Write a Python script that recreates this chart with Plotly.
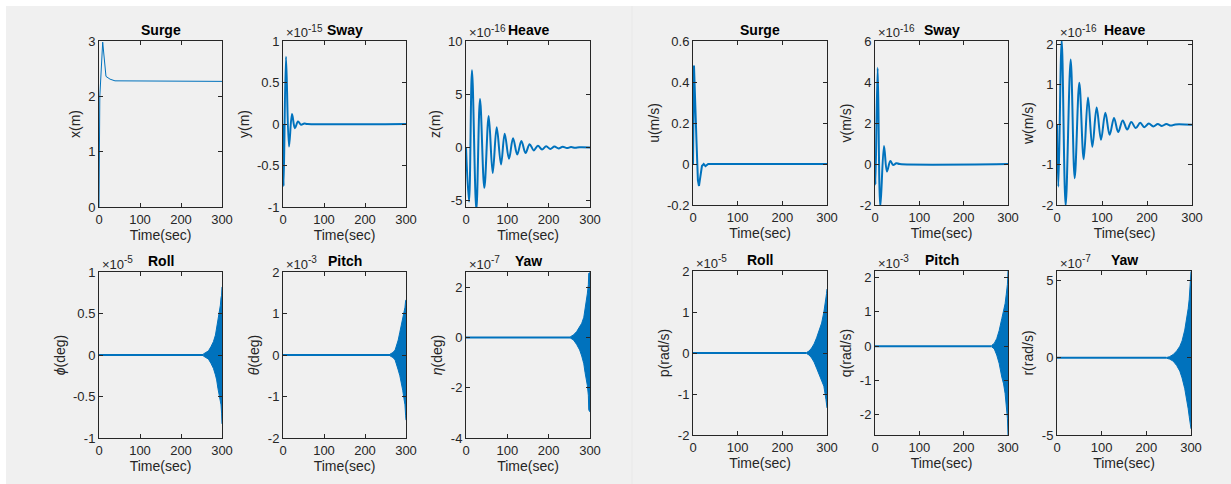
import plotly.graph_objects as go

W, H = 1231, 484
BLUE = "#0072BD"
AXC = "#262626"
FONT = "Liberation Sans, Arial, sans-serif"

# ---------------- data ----------------
time_ticks = [0, 100, 200, 300]

# Left figure: positions / angles
surge_x_t = [0, 2, 9, 17, 27, 39, 300]
surge_x_v = [0, 2.0, 2.98, 2.36, 2.31, 2.28, 2.27]

sway_y_t = [0, 1.5, 7.3, 14.6, 22, 29, 36.6, 44, 52, 60, 300]
sway_y_v = [0, -0.75, 0.81, -0.27, 0.12, -0.05, 0.03, -0.01, 0.005, 0, 0]  # x1e-15

heave_z_t = [0, 7.3, 14.5, 25, 33.9, 44.4, 54.9, 64.6, 74.3, 84.7, 93.6, 104, 113.8,
             124, 134, 144, 154, 164, 174, 184, 194, 204, 214, 224, 234, 244, 254, 264, 274, 300]
heave_z_v = [0, -5.1, 7.24, -5.9, 4.55, -3.8, 2.95, -2.4, 1.9, -1.6, 1.29, -1.07, 0.87,
             -0.66, 0.6, -0.53, 0.3, -0.28, 0.16, -0.19, 0.1, -0.14, 0.08, -0.1, 0.06, -0.06,
             0.03, -0.03, 0.01, 0]  # x1e-16

roll_phi_t = [254, 262, 267, 273, 279, 284, 287, 290, 293.5, 296, 297.6, 299, 300]
roll_phi_up = [0.01, 0.03, 0.05, 0.1, 0.16, 0.24, 0.32, 0.4, 0.52, 0.6, 0.69, 0.72, 0.82]
roll_phi_lo = [-0.01, -0.03, -0.05, -0.1, -0.16, -0.24, -0.3, -0.4, -0.5, -0.58, -0.6, -0.7, -0.83]  # x1e-5

pitch_theta_t = [261, 268, 273.5, 278, 281, 285, 289.4, 292, 295, 297.5, 299, 300]
pitch_theta_up = [0.02, 0.06, 0.12, 0.24, 0.36, 0.55, 0.77, 0.9, 1.0, 1.15, 1.3, 1.33]
pitch_theta_lo = [-0.02, -0.06, -0.12, -0.24, -0.36, -0.5, -0.69, -0.85, -1.05, -1.2, -1.45, -1.57]  # x1e-3

yaw_eta_t = [252, 260, 267.7, 275, 280, 285, 288, 291, 293.5, 296, 297, 299, 300]
yaw_eta_up = [0.02, 0.1, 0.23, 0.4, 0.56, 0.8, 1.08, 1.4, 1.73, 2.1, 2.55, 2.57, 2.57]
yaw_eta_lo = [-0.02, -0.1, -0.28, -0.5, -0.74, -1.05, -1.39, -1.65, -1.9, -2.3, -2.88, -2.95, -2.95]  # x1e-7

# Right figure: velocities
surge_u_t = [0, 2.2, 8, 11, 13.4, 16, 20, 24, 28, 34, 300]
surge_u_v = [0, 0.48, 0.1, -0.08, -0.107, -0.07, -0.01, 0.0, -0.01, 0, 0]

sway_v_t = [0, 1, 6, 12, 20.3, 27, 34.6, 41, 48, 56, 300]
sway_v_v = [0, -1.0, 4.69, -2.1, 0.88, -0.37, 0.15, -0.05, 0.04, 0, 0]  # x1e-16

heave_w_t = [0, 3, 10.4, 19.2, 30.4, 39.3, 49.6, 59.3, 68.9, 78.5, 88.1, 97.8, 107.4, 117,
             126.7, 136, 146, 156, 165, 175, 185, 194, 204, 214, 224, 233, 243, 253, 263, 300]
heave_w_v = [0, -1.54, 2.12, -2.02, 1.63, -1.33, 1.05, -0.86, 0.68, -0.55, 0.43, -0.37, 0.3, -0.25,
             0.17, -0.18, 0.11, -0.12, 0.07, -0.08, 0.05, -0.06, 0.03, -0.04, 0.02, -0.03, 0.02, -0.02, 0.01, 0]  # x1e-16

roll_p_t = [254, 260, 265.5, 271, 276.7, 282, 288, 293, 297.7, 299, 300]
roll_p_up = [0.01, 0.05, 0.12, 0.22, 0.37, 0.52, 0.73, 1.0, 1.3, 1.45, 1.56]
roll_p_lo = [-0.01, -0.05, -0.12, -0.22, -0.37, -0.5, -0.65, -0.81, -1.14, -1.25, -1.34]  # x1e-5

pitch_q_t = [263, 269, 274.6, 280, 286, 290, 293.5, 296, 298.7, 300]
pitch_q_up = [0.02, 0.08, 0.22, 0.45, 0.8, 1.0, 1.24, 1.5, 1.8, 2.19]
pitch_q_lo = [-0.02, -0.08, -0.26, -0.5, -0.9, -1.1, -1.38, -1.75, -2.1, -2.59]  # x1e-3

yaw_r_t = [245, 252, 260, 268, 275, 280, 286, 290, 293.7, 296, 298, 299.5, 300]
yaw_r_up = [0.02, 0.08, 0.21, 0.45, 0.75, 1.1, 1.8, 2.4, 3.2, 3.8, 4.6, 5.6, 5.6]
yaw_r_lo = [-0.02, -0.08, -0.21, -0.5, -0.86, -1.3, -2.0, -2.6, -3.3, -3.8, -4.3, -4.6, -4.6]  # x1e-7

# ---------------- panel configuration ----------------
panels = [
    dict(title="Surge", ylabel="x(m)", kind="line", data=(surge_x_t, surge_x_v), yr=[0, 3],
         yt=[0, 1, 2, 3], exp=None, box=(99, 222, 41, 207), lw=1, shape="linear"),
    dict(title="Sway", ylabel="y(m)", kind="line", data=(sway_y_t, sway_y_v), yr=[-1, 1],
         yt=[-1, -0.5, 0, 0.5, 1], exp="-15", box=(283, 406, 41, 207), lw=2, shape="spline"),
    dict(title="Heave", ylabel="z(m)", kind="line", data=(heave_z_t, heave_z_v), yr=[-5.6, 10],
         yt=[-5, 0, 5, 10], exp="-16", box=(466, 590, 41, 207), lw=2, shape="spline"),
    dict(title="Roll", ylabel="<i>ϕ</i>(deg)", kind="env", data=(roll_phi_t, roll_phi_up, roll_phi_lo),
         yr=[-1, 1], yt=[-1, -0.5, 0, 0.5, 1], exp="-5", box=(99, 222, 272, 438), lw=2),
    dict(title="Pitch", ylabel="<i>θ</i>(deg)", kind="env", data=(pitch_theta_t, pitch_theta_up, pitch_theta_lo),
         yr=[-2, 2], yt=[-2, -1, 0, 1, 2], exp="-3", box=(283, 406, 272, 438), lw=2),
    dict(title="Yaw", ylabel="<i>η</i>(deg)", kind="env", data=(yaw_eta_t, yaw_eta_up, yaw_eta_lo),
         yr=[-4, 2.6], yt=[-4, -2, 0, 2], exp="-7", box=(466, 590, 272, 438), lw=2),
    dict(title="Surge", ylabel="u(m/s)", kind="line", data=(surge_u_t, surge_u_v), yr=[-0.2, 0.6],
         yt=[-0.2, 0, 0.2, 0.4, 0.6], exp=None, box=(693, 827, 41, 205), lw=2, shape="linear"),
    dict(title="Sway", ylabel="v(m/s)", kind="line", data=(sway_v_t, sway_v_v), yr=[-2, 6],
         yt=[-2, 0, 2, 4, 6], exp="-16", box=(875, 1008, 41, 205), lw=2, shape="spline"),
    dict(title="Heave", ylabel="w(m/s)", kind="line", data=(heave_w_t, heave_w_v), yr=[-2, 2.09],
         yt=[-2, -1, 0, 1, 2], exp="-16", box=(1057, 1192, 41, 205), lw=2, shape="spline"),
    dict(title="Roll", ylabel="p(rad/s)", kind="env", data=(roll_p_t, roll_p_up, roll_p_lo),
         yr=[-2, 2], yt=[-2, -1, 0, 1, 2], exp="-5", box=(693, 827, 271, 435), lw=2),
    dict(title="Pitch", ylabel="q(rad/s)", kind="env", data=(pitch_q_t, pitch_q_up, pitch_q_lo),
         yr=[-2.59, 2.19], yt=[-2, -1, 0, 1, 2], exp="-3", box=(875, 1008, 271, 435), lw=2),
    dict(title="Yaw", ylabel="r(rad/s)", kind="env", data=(yaw_r_t, yaw_r_up, yaw_r_lo),
         yr=[-5, 5.63], yt=[-5, 0, 5], exp="-7", box=(1057, 1191, 271, 435), lw=2),
]


def fmt(v):
    return f"{v:g}"


TICK_SIZE = 13
LABEL_SIZE = 14
TITLE_SIZE = 14
SUP_SIZE = 10

fig = go.Figure()
annotations = []
layout_axes = {}

for i, p in enumerate(panels, start=1):
    xa = "x" if i == 1 else f"x{i}"
    ya = "y" if i == 1 else f"y{i}"
    x0, x1, y0, y1 = p["box"]
    if p["kind"] == "line":
        t, v = p["data"]
        fig.add_trace(go.Scatter(x=t, y=v, mode="lines", xaxis=xa, yaxis=ya,
                                 line=dict(color=BLUE, width=p["lw"], shape=p["shape"], smoothing=1.0),
                                 showlegend=False, hoverinfo="skip"))
    else:
        t, up, lo = p["data"]
        fig.add_trace(go.Scatter(x=[0, t[0]], y=[0, 0], mode="lines", xaxis=xa, yaxis=ya,
                                 line=dict(color=BLUE, width=p["lw"]), showlegend=False, hoverinfo="skip"))
        fig.add_trace(go.Scatter(x=t, y=up, mode="lines", xaxis=xa, yaxis=ya,
                                 line=dict(color=BLUE, width=1), showlegend=False, hoverinfo="skip"))
        fig.add_trace(go.Scatter(x=t, y=lo, mode="lines", xaxis=xa, yaxis=ya, fill="tonexty",
                                 fillcolor=BLUE, line=dict(color=BLUE, width=1),
                                 showlegend=False, hoverinfo="skip"))

    common = dict(ticks="inside", ticklen=4, tickwidth=1, tickcolor=AXC, showline=True,
                  linecolor=AXC, linewidth=1, mirror="ticks", showgrid=False, zeroline=False,
                  automargin=False, tickfont=dict(size=TICK_SIZE, color=AXC, family=FONT))
    xkey = "xaxis" if i == 1 else f"xaxis{i}"
    ykey = "yaxis" if i == 1 else f"yaxis{i}"
    layout_axes[xkey] = dict(domain=[x0 / W, x1 / W], anchor=ya, range=[0, 300],
                             tickvals=time_ticks, ticktext=[fmt(v) for v in time_ticks],
                             title=dict(text="Time(sec)", font=dict(size=LABEL_SIZE, color=AXC, family=FONT), standoff=2),
                             **common)
    layout_axes[ykey] = dict(domain=[1 - y1 / H, 1 - y0 / H], anchor=xa, range=p["yr"],
                             tickvals=p["yt"], ticktext=[fmt(v) for v in p["yt"]],
                             title=dict(text=p["ylabel"], font=dict(size=LABEL_SIZE, color=AXC, family=FONT), standoff=4),
                             **common)
    annotations.append(dict(text=p["title"], xref="paper", yref="paper",
                            x=(x0 + x1) / 2 / W, y=1 - (y0 - 11) / H, xanchor="center", yanchor="middle",
                            showarrow=False,
                            font=dict(size=TITLE_SIZE, color="#000000", family=FONT, weight="bold")))
    if p["exp"]:
        annotations.append(dict(text="×10", xref="paper", yref="paper",
                                x=(x0 + 1) / W, y=1 - (y0 - 8) / H, xanchor="left", yanchor="middle",
                                showarrow=False, font=dict(size=TICK_SIZE, color=AXC, family=FONT)))
        annotations.append(dict(text=p["exp"], xref="paper", yref="paper",
                                x=(x0 + 23) / W, y=1 - (y0 - 13) / H, xanchor="left", yanchor="middle",
                                showarrow=False, font=dict(size=SUP_SIZE, color=AXC, family=FONT)))

shapes = [
    dict(type="rect", xref="paper", yref="paper", x0=6 / W, x1=1, y0=0, y1=1 - 6 / H,
         fillcolor="#f0f0f0", line=dict(width=0), layer="below"),
    dict(type="line", xref="paper", yref="paper", x0=632 / W, x1=632 / W, y0=0, y1=1 - 6 / H,
         line=dict(color="#e8e8e8", width=1), layer="below"),
]

fig.update_layout(width=W, height=H, autosize=False, margin=dict(l=0, r=0, t=0, b=0, pad=0),
                  paper_bgcolor="#ffffff", plot_bgcolor="#ffffff",
                  font=dict(family=FONT, color=AXC),
                  annotations=annotations, shapes=shapes, **layout_axes)

fig.write_html("out.html", config={"displayModeBar": False},
               post_script="document.documentElement.style.margin='0';document.body.style.margin='0';"
                           "document.documentElement.style.overflow='hidden';document.body.style.overflow='hidden';")
